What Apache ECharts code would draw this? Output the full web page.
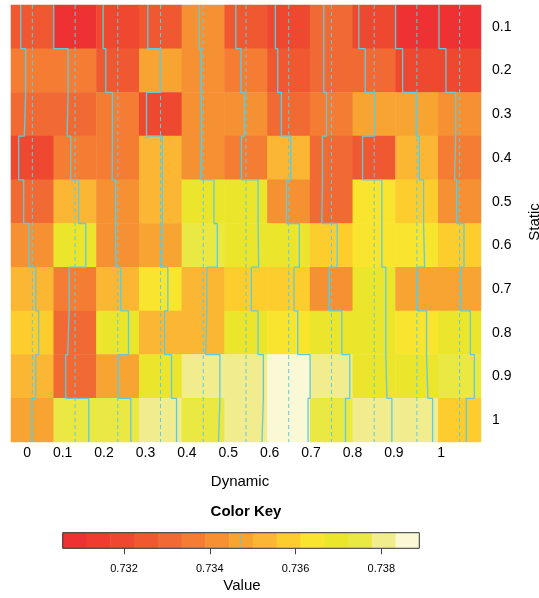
<!DOCTYPE html>
<html><head><meta charset="utf-8">
<script src="https://cdn.jsdelivr.net/npm/echarts@6/dist/echarts.min.js"></script>
<style>html,body{margin:0;padding:0;background:#fff}#c{width:539px;height:598px}</style>
</head><body><div id="c"></div>
<script>
// Column labels (Dynamic) and row labels (Static)
const dynamicLabels = ['0','0.1','0.2','0.3','0.4','0.5','0.6','0.7','0.8','0.9','1'];
const staticLabels = ['0.1','0.2','0.3','0.4','0.5','0.6','0.7','0.8','0.9','1'];

// Cell values, one array per Static row, ordered by Dynamic column
const static01 = [0.73246, 0.730571, 0.73187, 0.73226, 0.73395, 0.73275, 0.73213, 0.73324, 0.73174, 0.73058, 0.73071];
const static02 = [0.73343, 0.73337, 0.73239, 0.73466, 0.73434, 0.73376, 0.73259, 0.73324, 0.73298, 0.73194, 0.73207];
const static03 = [0.73317, 0.73317, 0.73369, 0.73200, 0.73440, 0.73441, 0.73330, 0.73376, 0.73486, 0.73460, 0.73395];
const static04 = [0.73207, 0.73389, 0.73363, 0.73505, 0.73428, 0.73385, 0.73512, 0.73298, 0.73246, 0.73518, 0.73376];
const static05 = [0.73304, 0.73544, 0.73428, 0.73505, 0.73681, 0.73707, 0.73428, 0.73285, 0.73622, 0.73603, 0.73415];
const static06 = [0.73408, 0.73681, 0.73434, 0.73495, 0.73746, 0.73720, 0.73680, 0.73583, 0.73622, 0.73622, 0.73557];
const static07 = [0.73538, 0.73356, 0.73531, 0.73615, 0.73544, 0.73577, 0.73577, 0.73428, 0.73700, 0.73486, 0.73492];
const static08 = [0.73596, 0.73330, 0.73681, 0.73551, 0.73518, 0.73707, 0.73648, 0.73675, 0.73700, 0.73660, 0.73681];
const static09 = [0.73538, 0.73291, 0.73486, 0.73687, 0.73797, 0.73810, 0.738886, 0.73830, 0.73720, 0.73687, 0.73759];
const static10 = [0.73460, 0.73739, 0.73726, 0.73784, 0.73770, 0.73784, 0.73849, 0.73746, 0.73817, 0.73778, 0.73603];

// Color key
const keyTicks = [0.732, 0.734, 0.736, 0.738];
const keyColors = ['#ee3133','#ef3b32','#ef4830','#f05832','#f26a33','#f47d33','#f69133','#f8a433',
                   '#fbb733','#fdcd2e','#f9e52d','#ebe62c','#eae842','#f1ed8e','#fbf8d6'];

const rows = [static01, static02, static03, static04, static05, static06, static07, static08, static09, static10];
const allVals = rows.flat();
const vMin = Math.min(...allVals), vMax = Math.max(...allVals);
const nBins = keyColors.length;
const breaks = Array.from({length: nBins + 1}, (_, k) => vMin + (vMax - vMin) * k / nBins);
const vline = (breaks[0] + breaks[nBins]) / 2;
const scale01 = v => (v - vMin) / (vMax - vMin);

const traceColor = '#5fcbe0';
const FONT = "'Liberation Sans', Arial, Helvetica, sans-serif";

const heatData = [];
rows.forEach((row, r) => row.forEach((v, c) => heatData.push([c, r, v])));

const pieces = keyColors.map((col, k) => ({
  gte: k === 0 ? breaks[0] - 1 : breaks[k],
  lt: k === nBins - 1 ? breaks[nBins] + 1 : breaks[k + 1],
  color: col
}));

const series = [{
  type: 'heatmap', xAxisIndex: 0, yAxisIndex: 0, data: heatData,
  itemStyle: {borderWidth: 0}, emphasis: {disabled: true}, silent: true, z: 1
}];

for (let c = 0; c < dynamicLabels.length; c++) {
  const pts = [];
  rows.forEach((row, r) => {
    const s = scale01(row[c]);
    pts.push([c + s, r], [c + s, r + 1]);
  });
  const sv = scale01(vline);
  series.push({
    type: 'line', xAxisIndex: 1, yAxisIndex: 1, data: [[c + sv, 0], [c + sv, rows.length]],
    symbol: 'none', silent: true, z: 3,
    lineStyle: {color: traceColor, width: 1, type: [4, 3]}
  });
  series.push({
    type: 'line', xAxisIndex: 1, yAxisIndex: 1, data: pts,
    symbol: 'none', silent: true, z: 4,
    lineStyle: {color: traceColor, width: 1.3}
  });
}

// Color key
series.push({
  type: 'custom', xAxisIndex: 3, yAxisIndex: 3, silent: true, z: 2,
  data: keyColors.map((col, k) => [breaks[k], breaks[k + 1], k]),
  encode: {x: [0, 1]},
  renderItem: (params, api) => {
    const p0 = api.coord([api.value(0), 0]);
    const p1 = api.coord([api.value(1), 1]);
    return {type: 'rect', shape: {x: p0[0], y: p1[1], width: p1[0] - p0[0] + 0.5, height: p0[1] - p1[1]},
            style: {fill: keyColors[api.value(2)]}};
  }
});
series.push({
  type: 'line', xAxisIndex: 3, yAxisIndex: 3, data: [[vline, 0], [vline, 1]],
  symbol: 'none', silent: true, z: 3, lineStyle: {color: traceColor, width: 1, type: [3, 2]}
});

const hidden = {axisLine: {show: false}, axisTick: {show: false}, axisLabel: {show: false}, splitLine: {show: false}};

const option = {
  animation: false,
  grid: [
    {left: 11, top: 5, width: 470, height: 437},
    {left: 10.3, top: 5, width: 455.4, height: 437},
    {left: 62.7, top: 532.7, width: 356.6, height: 15.6, show: true, borderColor: '#333', borderWidth: 1,
     backgroundColor: 'transparent', z: 10}
  ],
  xAxis: [
    Object.assign({type: 'category', gridIndex: 0, data: dynamicLabels}, hidden),
    {type: 'value', gridIndex: 0, min: 0, max: dynamicLabels.length, show: false},
    {type: 'category', gridIndex: 1, data: dynamicLabels, axisLine: {show: false}, axisTick: {show: false},
     axisLabel: {align: 'right', margin: 4, fontSize: 14, color: '#000', fontFamily: FONT, interval: 0}},
    {type: 'value', gridIndex: 2, min: vMin, max: vMax, splitLine: {show: false}, axisLine: {show: false},
     axisTick: {show: true, customValues: keyTicks, length: 6, lineStyle: {color: '#444'}},
     axisLabel: {customValues: keyTicks, margin: 15, fontSize: 11, color: '#000', fontFamily: FONT,
                 formatter: v => v.toFixed(3)}}
  ],
  yAxis: [
    {type: 'category', gridIndex: 0, data: staticLabels, inverse: true, position: 'right',
     axisLine: {show: false}, axisTick: {show: false}, splitLine: {show: false},
     axisLabel: {margin: 11, fontSize: 14, color: '#000', fontFamily: FONT}},
    {type: 'value', gridIndex: 0, min: 0, max: staticLabels.length, inverse: true, show: false},
    {type: 'value', gridIndex: 1, min: 0, max: 1, show: false},
    {type: 'value', gridIndex: 2, min: 0, max: 1, show: false}
  ],
  visualMap: {type: 'piecewise', show: false, seriesIndex: 0, dimension: 2, pieces: pieces},
  graphic: [
    {type: 'text', x: 240, y: 482, style: {text: 'Dynamic', font: '15px ' + FONT, fill: '#000', align: 'center', verticalAlign: 'middle'}},
    {type: 'text', x: 246, y: 512, style: {text: 'Color Key', font: 'bold 15px ' + FONT, fill: '#000', align: 'center', verticalAlign: 'middle'}},
    {type: 'text', x: 242, y: 586, style: {text: 'Value', font: '15px ' + FONT, fill: '#000', align: 'center', verticalAlign: 'middle'}},
    {type: 'text', x: 535, y: 222, rotation: Math.PI / 2, style: {text: 'Static', font: '15px ' + FONT, fill: '#000', align: 'center', verticalAlign: 'middle'}}
  ],
  series: series
};

const chart = echarts.init(document.getElementById('c'), null, {renderer: 'canvas'});
chart.setOption(option);
</script>
</body></html>
